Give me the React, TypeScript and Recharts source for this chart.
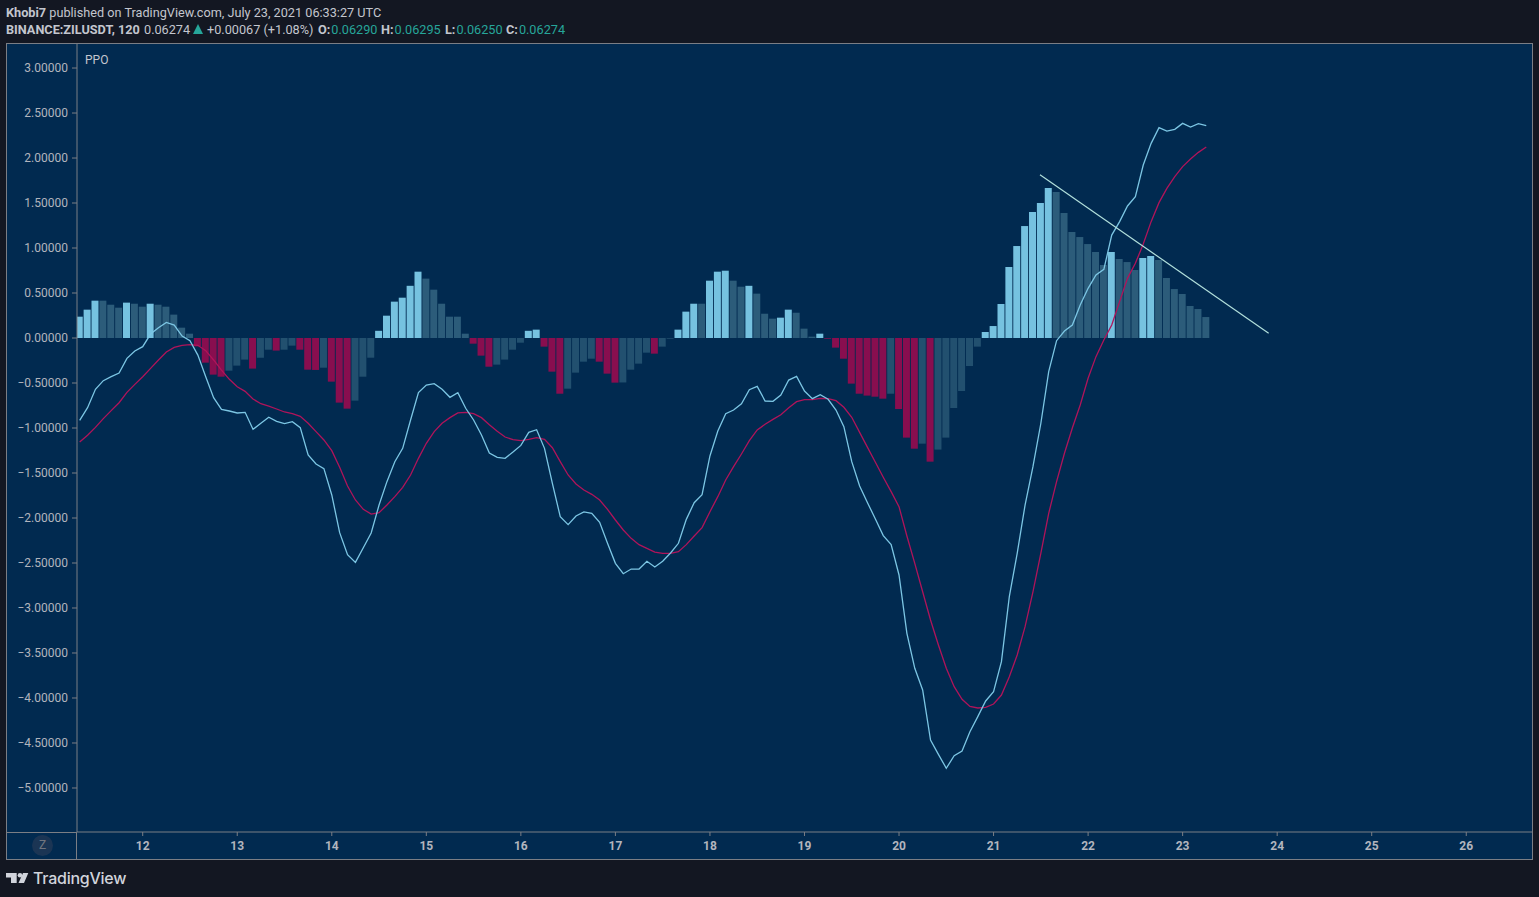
import { Bar, Cell, ComposedChart, Line, ReferenceLine, XAxis, YAxis } from "recharts";

// PPO histogram, 2h bars from the left edge of the chart
const histogram = [
  0.237, 0.315, 0.415, 0.415, 0.37, 0.337, 0.393, 0.381, 0.348, 0.381, 0.37, 0.348,
  0.26, 0.115, 0.048, -0.093, -0.274, -0.407, -0.43, -0.363, -0.307, -0.24, -0.34, -0.219,
  -0.13, -0.14, -0.13, -0.085, -0.13, -0.352, -0.355, -0.33, -0.485, -0.718, -0.785, -0.696,
  -0.43, -0.219, 0.08, 0.248, 0.404, 0.448, 0.58, 0.737, 0.66, 0.537, 0.381, 0.237,
  0.237, 0.048, -0.063, -0.196, -0.319, -0.296, -0.24, -0.13, -0.052, 0.08, 0.093, -0.096,
  -0.374, -0.619, -0.563, -0.385, -0.263, -0.23, -0.263, -0.396, -0.496, -0.494, -0.352, -0.285,
  -0.163, -0.174, -0.096, -0.008, 0.093, 0.293, 0.381, 0.381, 0.637, 0.737, 0.748, 0.637,
  0.57, 0.58, 0.493, 0.27, 0.215, 0.226, 0.315, 0.281, 0.104, 0.015, 0.048, -0.008,
  -0.107, -0.23, -0.507, -0.619, -0.64, -0.652, -0.674, -0.619, -0.789, -1.107, -1.23, -1.174,
  -1.374, -1.24, -1.107, -0.778, -0.589, -0.311, -0.096, 0.067, 0.133, 0.378, 0.789, 1.022,
  1.244, 1.4, 1.5, 1.667, 1.622, 1.389, 1.178, 1.122, 1.044, 0.956, 0.811, 0.956,
  0.878, 0.844, 0.756, 0.889, 0.911, 0.867, 0.667, 0.544, 0.489, 0.356, 0.322, 0.233,
];

const ppo = [
  -0.915, -0.774, -0.57, -0.474, -0.43, -0.389, -0.226, -0.144, -0.096, 0.044, 0.115, 0.174,
  0.144, 0.022, -0.03, -0.19, -0.43, -0.663, -0.793, -0.811, -0.833, -0.826, -1.015, -0.948,
  -0.881, -0.926, -0.952, -0.93, -0.996, -1.3, -1.4, -1.452, -1.744, -2.163, -2.407, -2.493,
  -2.33, -2.167, -1.856, -1.596, -1.374, -1.226, -0.911, -0.607, -0.522, -0.507, -0.57, -0.659,
  -0.607, -0.781, -0.911, -1.078, -1.278, -1.326, -1.337, -1.267, -1.193, -1.048, -1.019, -1.226,
  -1.615, -1.985, -2.074, -1.978, -1.933, -1.948, -2.048, -2.281, -2.504, -2.619, -2.567, -2.567,
  -2.481, -2.544, -2.481, -2.389, -2.281, -2.015, -1.83, -1.741, -1.311, -1.033, -0.841, -0.8,
  -0.73, -0.574, -0.537, -0.7, -0.704, -0.633, -0.467, -0.426, -0.589, -0.674, -0.63, -0.681,
  -0.8, -0.985, -1.374, -1.644, -1.83, -2.011, -2.196, -2.296, -2.633, -3.281, -3.67, -3.911,
  -4.467, -4.626, -4.781, -4.641, -4.589, -4.374, -4.207, -4.033, -3.93, -3.596, -2.874, -2.393,
  -1.856, -1.43, -0.95, -0.374, -0.03, 0.078, 0.144, 0.367, 0.552, 0.7, 0.763, 1.144,
  1.293, 1.467, 1.57, 1.922, 2.163, 2.337, 2.3, 2.319, 2.385, 2.344, 2.381, 2.359,
];

const signal = [
  -1.156, -1.081, -0.993, -0.896, -0.807, -0.719, -0.604, -0.515, -0.43, -0.337, -0.244, -0.156,
  -0.104, -0.081, -0.074, -0.081, -0.141, -0.244, -0.356, -0.459, -0.541, -0.593, -0.678, -0.73,
  -0.756, -0.789, -0.822, -0.841, -0.87, -0.948, -1.04, -1.133, -1.252, -1.437, -1.644, -1.8,
  -1.904, -1.956, -1.941, -1.856, -1.763, -1.659, -1.522, -1.337, -1.17, -1.04, -0.948, -0.885,
  -0.833, -0.826, -0.841, -0.885, -0.963, -1.037, -1.1, -1.13, -1.141, -1.126, -1.107, -1.126,
  -1.219, -1.374, -1.522, -1.622, -1.689, -1.737, -1.8, -1.904, -2.022, -2.133, -2.226, -2.296,
  -2.337, -2.378, -2.393, -2.393, -2.374, -2.296, -2.2, -2.107, -1.93, -1.763, -1.578, -1.43,
  -1.289, -1.141, -1.022, -0.959, -0.904, -0.852, -0.774, -0.707, -0.685, -0.685, -0.67, -0.674,
  -0.696, -0.77, -0.881, -1.048, -1.215, -1.381, -1.548, -1.707, -1.874, -2.2, -2.504, -2.819,
  -3.133, -3.411, -3.67, -3.874, -4.015, -4.093, -4.111, -4.104, -4.067, -3.967, -3.763, -3.522,
  -3.207, -2.82, -2.393, -1.948, -1.596, -1.281, -1, -0.744, -0.448, -0.207, -0.022, 0.144,
  0.404, 0.663, 0.83, 1.044, 1.293, 1.504, 1.663, 1.793, 1.904, 1.989, 2.063, 2.122,
];

const firstBarDay = 11 + 4 / 12;
const dayTicks = [12, 13, 14, 15, 16, 17, 18, 19, 20, 21, 22, 23, 24, 25, 26];
const valueTicks = [3, 2.5, 2, 1.5, 1, 0.5, 0, -0.5, -1, -1.5, -2, -2.5, -3, -3.5, -4, -4.5, -5];
const trendLine = [
  { x: 21.491, y: 1.814 },
  { x: 23.91, y: 0.052 },
];

// legend row of the header: left edge and text
const ohlc = [
  { left: 318, label: "O:", value: "0.06290" },
  { left: 381, label: "H:", value: "0.06295" },
  { left: 445, label: "L:", value: "0.06250" },
  { left: 506, label: "C:", value: "0.06274" },
];

const rows = histogram.map((hist, i) => ({
  day: firstBarDay + i / 12,
  hist,
  ppo: ppo[i],
  signal: signal[i],
}));

const BG = "#012a50";
const PAGE = "#131722";
const GRID = "#7b7e85";
const TEXT = "#b2b5be";
const GREEN = "#26a69a";
const FONT = "Roboto, sans-serif";

// same colouring as the indicator: bright when growing away from zero
function barColor(i: number) {
  const v = histogram[i];
  const prev = i > 0 ? histogram[i - 1] : -Infinity;
  if (v >= 0) return v > prev ? "#76c2e0" : "#2c5c7a";
  return v < prev ? "#880e4f" : "#22506f";
}

function At({ left, top = 22, children }: { left: number; top?: number; children: React.ReactNode }) {
  return (
    <span style={{ position: "absolute", left, top, whiteSpace: "nowrap", lineHeight: "15px" }}>{children}</span>
  );
}

export default function App() {
  return (
    <div
      style={{
        position: "absolute",
        left: 0,
        top: 0,
        width: 1539,
        height: 897,
        overflow: "hidden",
        background: PAGE,
        fontFamily: FONT,
        fontSize: 12.7,
        color: "#c3c6ce",
      }}
    >
      <At left={6} top={5}>
        <b>Khobi7</b> published on TradingView.com, July 23, 2021 06:33:27 UTC
      </At>
      <At left={6}>
        <b>BINANCE:ZILUSDT, 120</b>
      </At>
      <At left={144}>0.06274</At>
      <svg style={{ position: "absolute", left: 193, top: 24 }} width={10} height={10}>
        <path d="M5 0L10 10H0Z" fill={GREEN} />
      </svg>
      <At left={207}>+0.00067 (+1.08%)</At>
      {ohlc.map((o) => (
        <At key={o.label} left={o.left}>
          <b>{o.label}</b>
          <span style={{ color: GREEN, marginLeft: 1 }}>{o.value}</span>
        </At>
      ))}

      <div style={{ position: "absolute", left: 6, top: 43, width: 1527, height: 817, background: BG }}>
        <ComposedChart
          width={1527}
          height={817}
          data={rows}
          margin={{ top: 0, right: 0, bottom: 0, left: 0 }}
          barGap={0}
        >
          <XAxis
            type="number"
            dataKey="day"
            domain={[11.305, 26.706]}
            ticks={dayTicks}
            allowDataOverflow
            height={28}
            stroke={GRID}
            tickSize={4}
            tickMargin={5}
            tick={{ fill: TEXT, fontSize: 12, fontWeight: 700, fontFamily: FONT }}
            interval={0}
          />
          <YAxis
            type="number"
            domain={[-5.489, 3.278]}
            ticks={valueTicks}
            allowDataOverflow
            width={71}
            stroke={GRID}
            tickSize={5}
            tickMargin={4}
            interval={0}
            tick={{ fill: TEXT, fontSize: 12, fontFamily: FONT }}
            tickFormatter={(v: number) => (v < 0 ? "\u2212" + (-v).toFixed(5) : v.toFixed(5))}
          />
          <Bar dataKey="hist" barSize={7} isAnimationActive={false}>
            {rows.map((_, i) => (
              <Cell key={i} fill={barColor(i)} />
            ))}
          </Bar>
          <Line dataKey="signal" type="linear" stroke="#b0145a" strokeWidth={1.3} dot={false} isAnimationActive={false} />
          <Line dataKey="ppo" type="linear" stroke="#7cc6e4" strokeWidth={1.3} dot={false} isAnimationActive={false} />
          <ReferenceLine segment={trendLine} stroke="#b2e0dc" strokeWidth={1.2} ifOverflow="visible" />
        </ComposedChart>
        <div style={{ position: "absolute", left: 79, top: 10, color: "#c3c6ce", fontSize: 12 }}>PPO</div>
        <div
          style={{
            position: "absolute",
            left: 26,
            top: 792,
            width: 21,
            height: 21,
            borderRadius: 11,
            background: "#1b3554",
            color: "#70757f",
            textAlign: "center",
            lineHeight: "21px",
            fontSize: 12,
          }}
        >
          Z
        </div>
        {/* axis separators run the whole way across the pane */}
        <div style={{ position: "absolute", left: 0, top: 789, width: 71, height: 1, background: GRID }} />
        <div style={{ position: "absolute", left: 70, top: 789, width: 1, height: 28, background: GRID }} />
        <div style={{ position: "absolute", inset: 0, border: `1px solid ${GRID}`, pointerEvents: "none" }} />
      </div>

      <svg style={{ position: "absolute", left: 6, top: 872 }} width={24} height={13}>
        <path d="M0 1H10.7V11H5V5.5H0Z M17 1H22.3L18 11H12.5Z" fill="#d1d4dc" />
        <circle cx="14" cy="3.2" r="2.3" fill="#d1d4dc" />
      </svg>
      <div
        style={{
          position: "absolute",
          left: 33,
          top: 869,
          fontFamily: "Inter, sans-serif",
          fontSize: 16,
          fontWeight: 500,
          lineHeight: "19px",
          color: "#d1d4dc",
          letterSpacing: -0.25,
        }}
      >
        TradingView
      </div>
    </div>
  );
}
